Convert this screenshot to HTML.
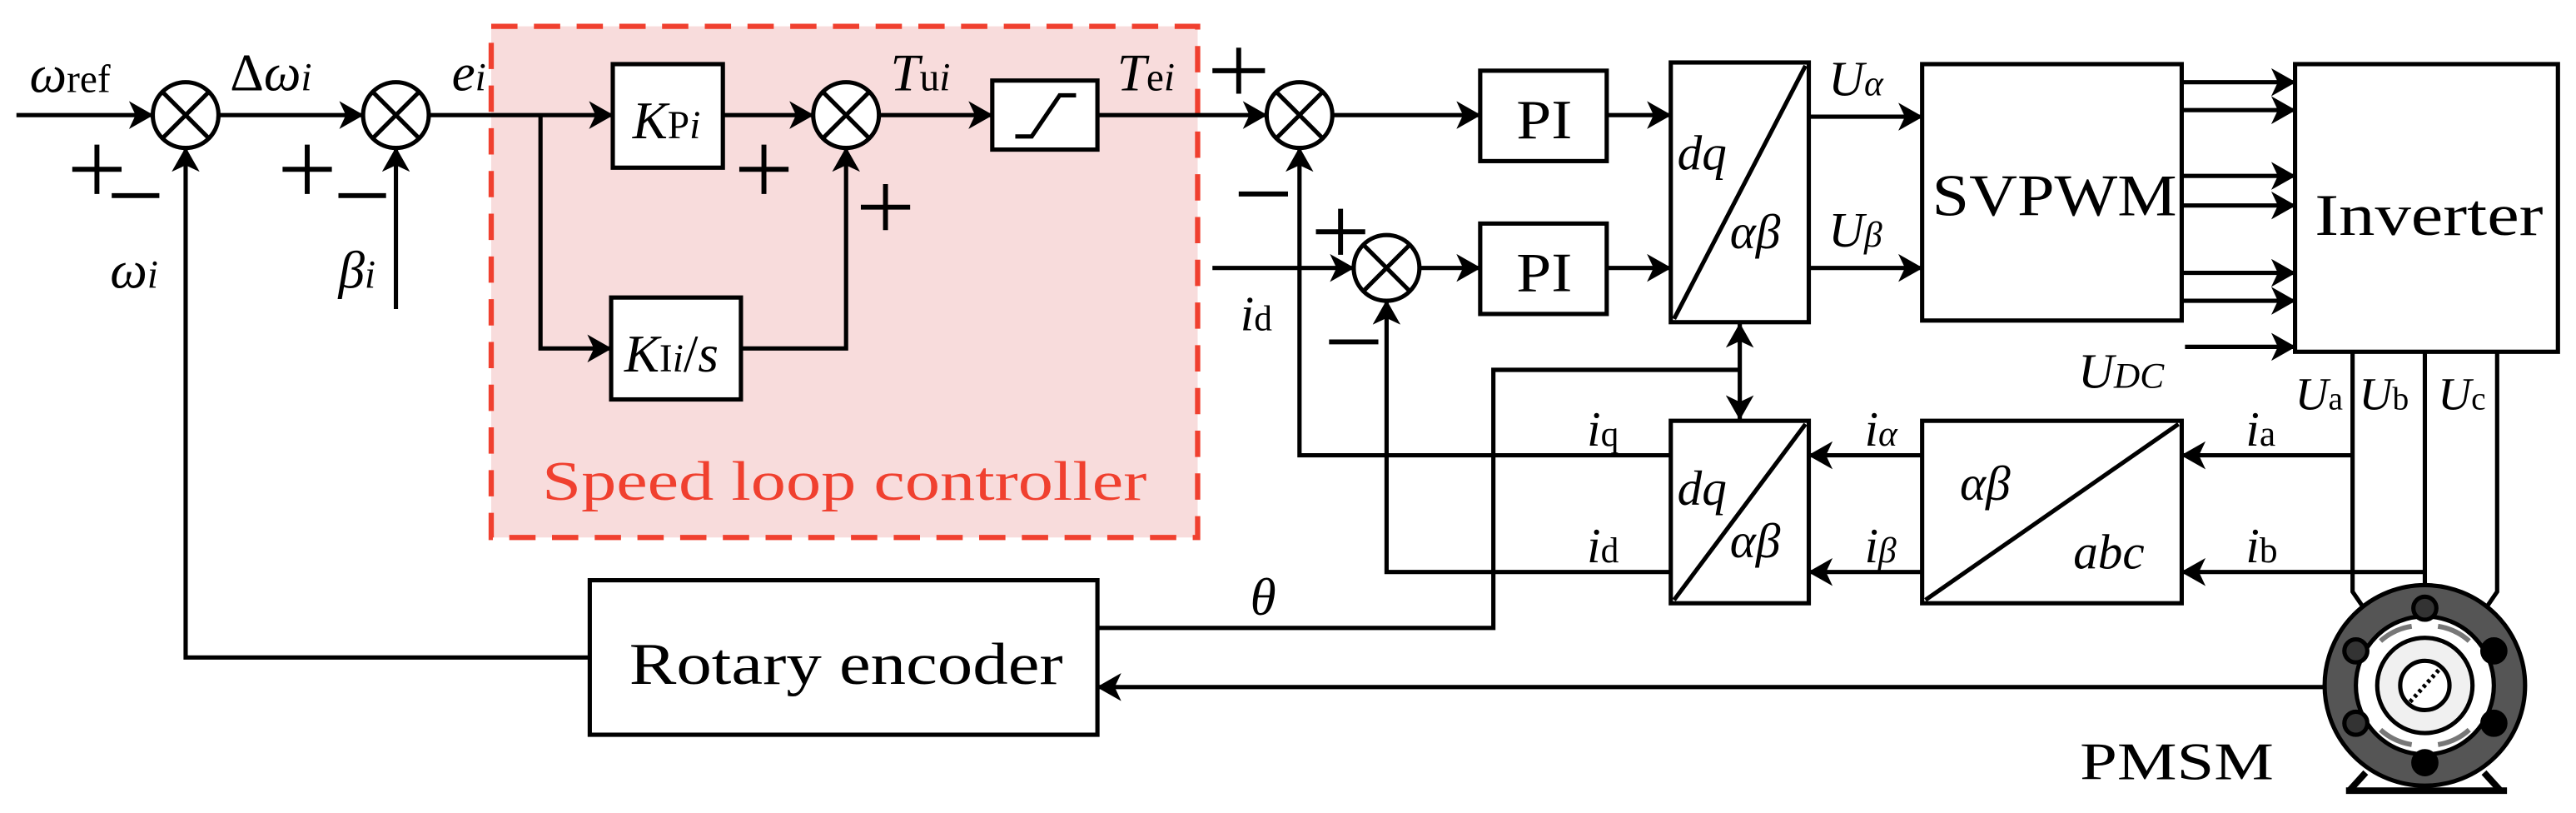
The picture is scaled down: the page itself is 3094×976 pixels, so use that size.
<!DOCTYPE html>
<html><head><meta charset="utf-8"><style>
html,body{margin:0;padding:0;background:#fff;}
svg{display:block;}
text{font-family:"Liberation Serif","DejaVu Serif","Noto Serif CJK SC",serif;fill:#000;}
.it{font-style:italic;}
</style></head><body>
<svg width="3094" height="976" viewBox="0 0 1568 494.6" xmlns="http://www.w3.org/2000/svg" font-family="Liberation Serif, DejaVu Serif, serif">
<defs>
<marker id="a" viewBox="0 0 15 17" refX="14.5" refY="8.5" markerWidth="15" markerHeight="17" markerUnits="userSpaceOnUse" orient="auto">
<path d="M0,0 L15,8.5 L0,17 L4,8.5 Z" fill="#000"/></marker>
<marker id="as" viewBox="0 0 15 17" refX="0.5" refY="8.5" markerWidth="15" markerHeight="17" markerUnits="userSpaceOnUse" orient="auto">
<path d="M15,0 L0,8.5 L15,17 L11,8.5 Z" fill="#000"/></marker>
</defs>

<!-- speed loop controller -->
<rect x="299" y="16" width="430" height="311" fill="#f8dcdc" stroke="#f0402f" stroke-width="3.2" stroke-dasharray="16,10"/>
<text x="330" y="304" font-size="34" textLength="368" lengthAdjust="spacingAndGlyphs" style="fill:#f0402f">Speed loop controller</text>

<g stroke="#000" stroke-width="2.6" fill="none">
<line x1="10" y1="70" x2="93" y2="70" marker-end="url(#a)"/>
<line x1="133" y1="70" x2="221" y2="70" marker-end="url(#a)"/>
<line x1="261" y1="70" x2="373" y2="70" marker-end="url(#a)"/>
<polyline points="329,70 329,212 372,212" marker-end="url(#a)"/>
<line x1="440" y1="70" x2="495" y2="70" marker-end="url(#a)"/>
<polyline points="451,212 515,212 515,90" marker-end="url(#a)"/>
<line x1="535" y1="70" x2="604" y2="70" marker-end="url(#a)"/>
<line x1="668" y1="70" x2="771" y2="70" marker-end="url(#a)"/>
<line x1="241" y1="188" x2="241" y2="90" marker-end="url(#a)"/>
<polyline points="359,400 113,400 113,90" marker-end="url(#a)"/>

<circle cx="113" cy="70" r="20" fill="#fff"/>
<circle cx="241" cy="70" r="20" fill="#fff"/>
<circle cx="515" cy="70" r="20" fill="#fff"/>
<circle cx="791" cy="70" r="20" fill="#fff"/>
<circle cx="844" cy="163" r="20" fill="#fff"/>
<path d="M99,56 L127,84 M127,56 L99,84 M227,56 L255,84 M255,56 L227,84 M501,56 L529,84 M529,56 L501,84 M777,56 L805,84 M805,56 L777,84 M830,149 L858,177 M858,149 L830,177"/>

<!-- signs -->
<path stroke-width="3" d="M44,103 H74 M59,88 V118 M68,119 H97
M172,103 H202 M187,88 V118 M206,119 H235
M450,103 H480 M465,88 V118
M524,126 H554 M539,112 V140
M738,43 H770 M754,29 V57 M754,118 H784
M801,141 H831 M816,127 V155 M809,208 H839"/>

<rect x="373" y="39" width="67" height="63" fill="#fff"/>
<rect x="372" y="181" width="79" height="62" fill="#fff"/>
<rect x="604" y="49" width="64" height="42" fill="#fff"/>
<polyline points="618,83 628,83 645,58 655,58"/>
<rect x="359" y="353" width="309" height="94" fill="#fff"/>

<line x1="811" y1="70" x2="901" y2="70" marker-end="url(#a)"/>
<line x1="978" y1="70" x2="1017" y2="70" marker-end="url(#a)"/>
<line x1="738" y1="163" x2="824" y2="163" marker-end="url(#a)"/>
<line x1="864" y1="163" x2="901" y2="163" marker-end="url(#a)"/>
<line x1="978" y1="163" x2="1017" y2="163" marker-end="url(#a)"/>
<polyline points="1017,277 791,277 791,90" marker-end="url(#a)"/>
<polyline points="1017,348 844,348 844,183" marker-end="url(#a)"/>
<rect x="901" y="43" width="77" height="55" fill="#fff"/>
<rect x="901" y="136" width="77" height="55" fill="#fff"/>
<rect x="1017" y="38" width="84" height="158" fill="#fff"/>
<line x1="1019" y1="194" x2="1099" y2="40"/>
<rect x="1017" y="256" width="84" height="111" fill="#fff"/>
<line x1="1019" y1="365" x2="1099" y2="258"/>
<line x1="1059" y1="197" x2="1059" y2="255" marker-start="url(#as)" marker-end="url(#a)"/>
<polyline points="1059,225 909,225 909,382 668,382"/>

<line x1="1101" y1="71" x2="1170" y2="71" marker-end="url(#a)"/>
<line x1="1101" y1="163" x2="1170" y2="163" marker-end="url(#a)"/>
<rect x="1170" y="39" width="158" height="156" fill="#fff"/>
<line x1="1328" y1="50" x2="1397" y2="50" marker-end="url(#a)"/>
<line x1="1328" y1="67" x2="1397" y2="67" marker-end="url(#a)"/>
<line x1="1328" y1="107" x2="1397" y2="107" marker-end="url(#a)"/>
<line x1="1328" y1="125" x2="1397" y2="125" marker-end="url(#a)"/>
<line x1="1328" y1="166" x2="1397" y2="166" marker-end="url(#a)"/>
<line x1="1328" y1="183" x2="1397" y2="183" marker-end="url(#a)"/>
<line x1="1330" y1="211" x2="1397" y2="211" marker-end="url(#a)"/>
<rect x="1397" y="39" width="160" height="175" fill="#fff"/>

<rect x="1170" y="256" width="158" height="111" fill="#fff"/>
<line x1="1172" y1="365" x2="1326" y2="258"/>
<line x1="1170" y1="277" x2="1101" y2="277" marker-end="url(#a)"/>
<line x1="1170" y1="348" x2="1101" y2="348" marker-end="url(#a)"/>
<line x1="1432" y1="277" x2="1328" y2="277" marker-end="url(#a)"/>
<line x1="1476" y1="348" x2="1328" y2="348" marker-end="url(#a)"/>
<polyline points="1432,214 1432,360 1443,376"/>
<polyline points="1476,214 1476,360"/>
<polyline points="1520,214 1520,360 1509,376"/>
<line x1="1415" y1="418" x2="668" y2="418" marker-end="url(#a)"/>
</g>

<!-- motor -->
<g stroke="#000" stroke-width="2.6">
<path d="M1440,470 L1430,481 M1512,470 L1522,481" stroke-width="4"/>
<line x1="1428" y1="481" x2="1526" y2="481" stroke-width="4"/>
<circle cx="1476" cy="417" r="61" fill="#555"/>
<circle cx="1476" cy="417" r="42" fill="#fff"/>
<path d="M1449,390 A37,37 0 0 1 1468,381 M1484,381 A37,37 0 0 1 1503,390 M1449,444 A37,37 0 0 0 1468,453 M1484,453 A37,37 0 0 0 1503,444" stroke="#777" stroke-width="3" fill="none"/>
<circle cx="1476" cy="417" r="29" fill="#f0f0f0"/>
<circle cx="1476" cy="417" r="15" fill="#fff"/>
<line x1="1467" y1="427" x2="1485" y2="407" stroke-dasharray="2,2"/>
<circle cx="1476" cy="370" r="7" fill="#333"/>
<circle cx="1434" cy="396" r="7" fill="#333"/>
<circle cx="1434" cy="440" r="7" fill="#333"/>
<circle cx="1518" cy="396" r="7" fill="#000"/>
<circle cx="1518" cy="440" r="7" fill="#000"/>
<circle cx="1476" cy="464" r="7" fill="#000"/>
</g>

<!-- labels -->
<text x="18" y="56" font-size="32"><tspan class="it">ω</tspan><tspan font-size="24">ref</tspan></text>
<text x="140" y="55" font-size="32">Δ<tspan class="it">ω<tspan font-size="24">i</tspan></tspan></text>
<text x="275" y="55" font-size="32" class="it">e<tspan font-size="24">i</tspan></text>
<text x="67" y="175" font-size="32" class="it">ω<tspan font-size="24">i</tspan></text>
<text x="206" y="175" font-size="32" class="it">β<tspan font-size="24">i</tspan></text>
<text x="385" y="84" font-size="32"><tspan class="it">K</tspan><tspan font-size="24">P<tspan class="it">i</tspan></tspan></text>
<text x="380" y="226" font-size="32"><tspan class="it">K</tspan><tspan font-size="24">I<tspan class="it">i</tspan></tspan>/<tspan class="it">s</tspan></text>
<text x="542" y="55" font-size="32"><tspan class="it">T</tspan><tspan font-size="24">u<tspan class="it">i</tspan></tspan></text>
<text x="680" y="55" font-size="32"><tspan class="it">T</tspan><tspan font-size="24">e<tspan class="it">i</tspan></tspan></text>
<text x="383" y="416" font-size="36" textLength="264" lengthAdjust="spacingAndGlyphs">Rotary encoder</text>
<text x="923" y="84" font-size="34" textLength="34" lengthAdjust="spacingAndGlyphs">PI</text>
<text x="923" y="177" font-size="34" textLength="34" lengthAdjust="spacingAndGlyphs">PI</text>
<text x="1021" y="103" font-size="30" class="it">dq</text>
<text x="1053" y="151" font-size="30" class="it">αβ</text>
<text x="1021" y="307" font-size="30" class="it">dq</text>
<text x="1053" y="339" font-size="30" class="it">αβ</text>
<text x="1113" y="58" font-size="30" class="it">U<tspan font-size="22">α</tspan></text>
<text x="1113" y="150" font-size="30" class="it">U<tspan font-size="22">β</tspan></text>
<text x="1176" y="131" font-size="36" textLength="149" lengthAdjust="spacingAndGlyphs">SVPWM</text>
<text x="1409" y="143" font-size="36" textLength="139" lengthAdjust="spacingAndGlyphs">Inverter</text>
<text x="1265" y="236" font-size="30" class="it">U<tspan font-size="22">DC</tspan></text>
<text x="1397" y="249" font-size="28"><tspan class="it">U</tspan><tspan font-size="20">a</tspan></text>
<text x="1436" y="249" font-size="28"><tspan class="it">U</tspan><tspan font-size="20">b</tspan></text>
<text x="1484" y="249" font-size="28"><tspan class="it">U</tspan><tspan font-size="20">c</tspan></text>
<text x="755" y="201" font-size="30"><tspan class="it">i</tspan><tspan font-size="22">d</tspan></text>
<text x="966" y="271" font-size="30"><tspan class="it">i</tspan><tspan font-size="22">q</tspan></text>
<text x="966" y="342" font-size="30"><tspan class="it">i</tspan><tspan font-size="22">d</tspan></text>
<text x="1135" y="271" font-size="30"><tspan class="it">i</tspan><tspan font-size="22" class="it">α</tspan></text>
<text x="1135" y="342" font-size="30"><tspan class="it">i</tspan><tspan font-size="22" class="it">β</tspan></text>
<text x="1367" y="271" font-size="30"><tspan class="it">i</tspan><tspan font-size="22">a</tspan></text>
<text x="1367" y="342" font-size="30"><tspan class="it">i</tspan><tspan font-size="22">b</tspan></text>
<text x="1193" y="304" font-size="30" class="it">αβ</text>
<text x="1262" y="346" font-size="30" class="it">abc</text>
<text x="761" y="374" font-size="32" class="it">θ</text>
<text x="1266" y="474" font-size="32" textLength="118" lengthAdjust="spacingAndGlyphs">PMSM</text>
</svg>
</body></html>
